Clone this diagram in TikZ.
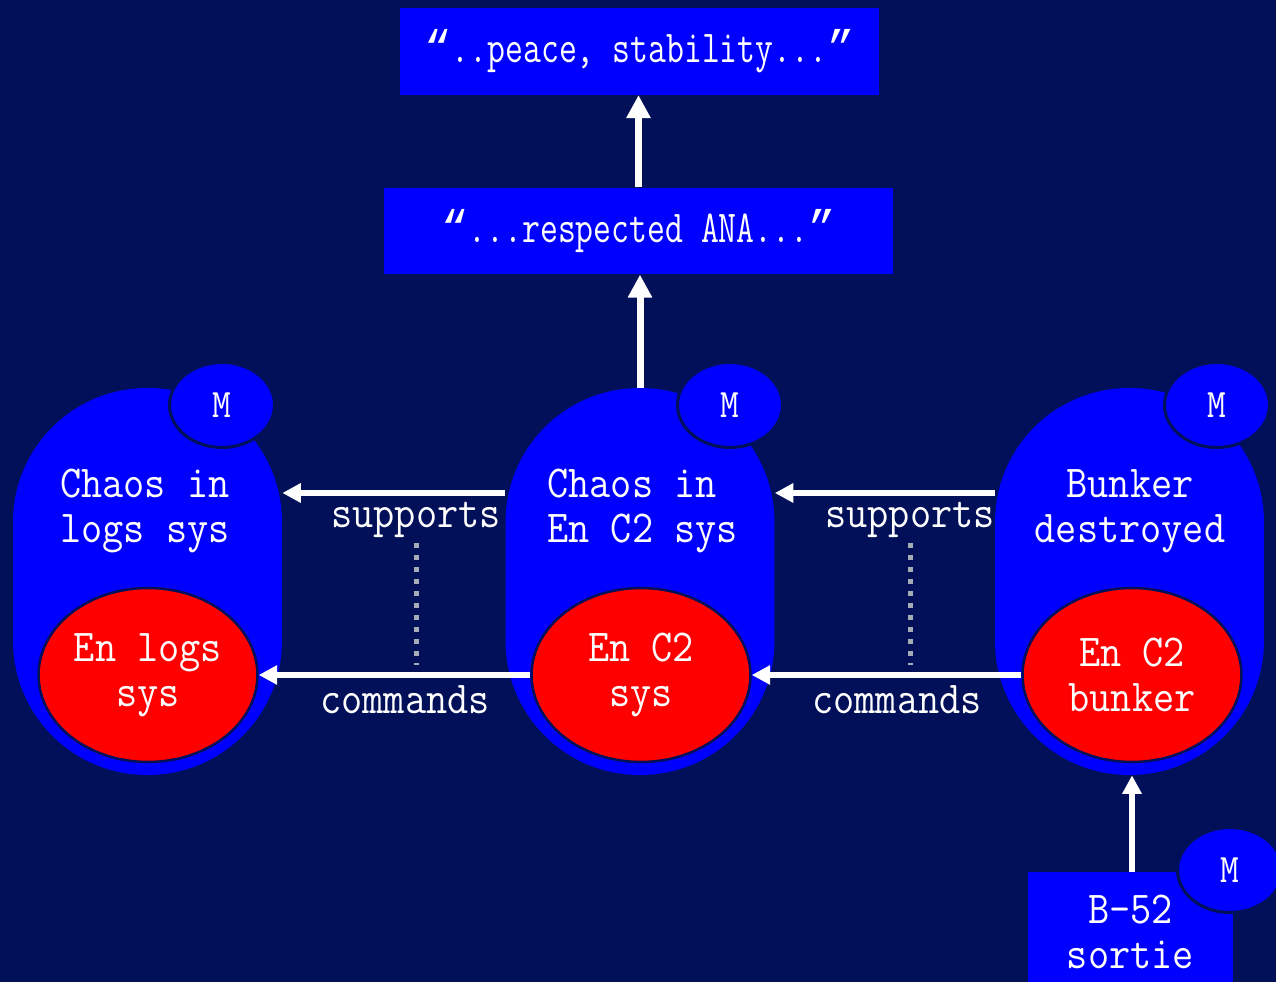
\documentclass[tikz,border=0pt]{standalone}
\usepackage{fontspec}
\setmonofont[FakeStretch=0.9]{Latin Modern Mono}
\newfontfamily\quotefont[FakeStretch=0.76]{Latin Modern Mono}
\newfontfamily\quotemark{Liberation Mono}
\usetikzlibrary{shapes.geometric,arrows.meta}
\definecolor{navy}{RGB}{1,16,89}
\definecolor{slideblue}{RGB}{0,0,255}
\definecolor{slidered}{RGB}{255,0,0}
\definecolor{dotgray}{RGB}{165,172,180}
\newcommand{\openq}{{\quotemark “}}
\newcommand{\closeq}{{\quotemark ”}}

\begin{document}
\begin{tikzpicture}
    [x=0.02cm,y=-0.02cm,%
      every node/.style={text=white,inner sep=0pt,font=\ttfamily\fontsize{26}{25.5}\selectfont},%
      pill/.style={rectangle,fill=slideblue,rounded corners=2.68cm,minimum width=5.38cm,minimum height=7.74cm},%
      target/.style={ellipse,fill=slidered,draw=navy,line width=0.05cm,minimum width=4.38cm,minimum height=3.48cm,align=center},%
      mnode/.style={ellipse,fill=slideblue,draw=navy,line width=0.06cm,minimum width=2.1cm,minimum height=1.7cm,font=\ttfamily\fontsize{23}{24}\selectfont},%
      effect/.style={rectangle,fill=slideblue,minimum height=1.73cm,align=center},%
      arr/.style={draw=white,line width=0.12cm,-{Triangle[width=0.37cm,length=0.37cm]}},%
      bigarr/.style={draw=white,line width=0.14cm,-{Triangle[width=0.46cm,length=0.46cm]}},%
      link/.style={draw=dotgray,line width=0.1cm,dash pattern=on 0.1cm off 0.14cm}]
    \useasboundingbox (0,0) rectangle (1276,982);
    \fill[navy] (0,0) rectangle (1276,982);

    % effects
    \node[effect,minimum width=9.58cm] (peace) at (639.5,51.5) {\quotefont\openq..peace, stability...\closeq};
    \node[effect,minimum width=10.18cm] (ana) at (638.5,231) {\quotefont\openq...respected ANA...\closeq};

    % systems
    \node[pill] (pillLog) at (147.5,581.5) {};
    \node[pill] (pillC2) at (640,581.5) {};
    \node[pill] (pillBunk) at (1129.5,581.5) {};
    \node[align=center] (tLog) at (145,511) {Chaos in\\logs sys};
    \node[align=left,anchor=west] (tC2) at (547,511) {Chaos in\\En C2 sys};
    \node[align=center] (tBunk) at (1130,511) {Bunker\\destroyed};
    \node[target] (enLog) at (148,675) {En logs\\sys};
    \node[target] (enC2) at (641,675) {En C2\\sys};
    \node[target] (enBunk) at (1132,675) {En C2\\bunker};
    \node[mnode] (mLog) at (222,405) {M};
    \node[mnode] (mC2) at (730,405) {M};
    \node[mnode] (mBunk) at (1217,405) {M};

    % action
    \node[effect,minimum width=4.1cm,minimum height=2.4cm] (sortie) at (1130.5,932) {B-52\\sortie};
    \node[mnode] (mSortie) at (1230,870) {M};

    % links
    \draw[bigarr] (ana.north) -- (ana.north |- peace.south);
    \draw[bigarr] (pillC2.north) -- (pillC2.north |- ana.south);
    \draw[arr] (pillC2.west |- 0,493) -- (pillLog.east |- 0,493);
    \draw[arr] (pillBunk.west |- 0,493) -- (pillC2.east |- 0,493);
    \draw[arr] (enC2.west) -- (enLog.east);
    \draw[arr] (enBunk.west) -- (enC2.east);
    \draw[arr] (sortie.north -| enBunk.south) -- (pillBunk.south -| enBunk.south);

    \node (supLog) at (416,520) {supports};
    \node (supC2) at (910,520) {supports};
    \node (cmdLog) at (405,700) {commands};
    \node (cmdC2) at (897,700) {commands};
    \draw[link,shorten <=0.1cm] (supLog.south) -- ([yshift=0.2cm]supLog.south |- enLog.east);
    \draw[link,shorten <=0.1cm] (supC2.south) -- ([yshift=0.2cm]supC2.south |- enC2.east);
  \end{tikzpicture}
\end{document}
